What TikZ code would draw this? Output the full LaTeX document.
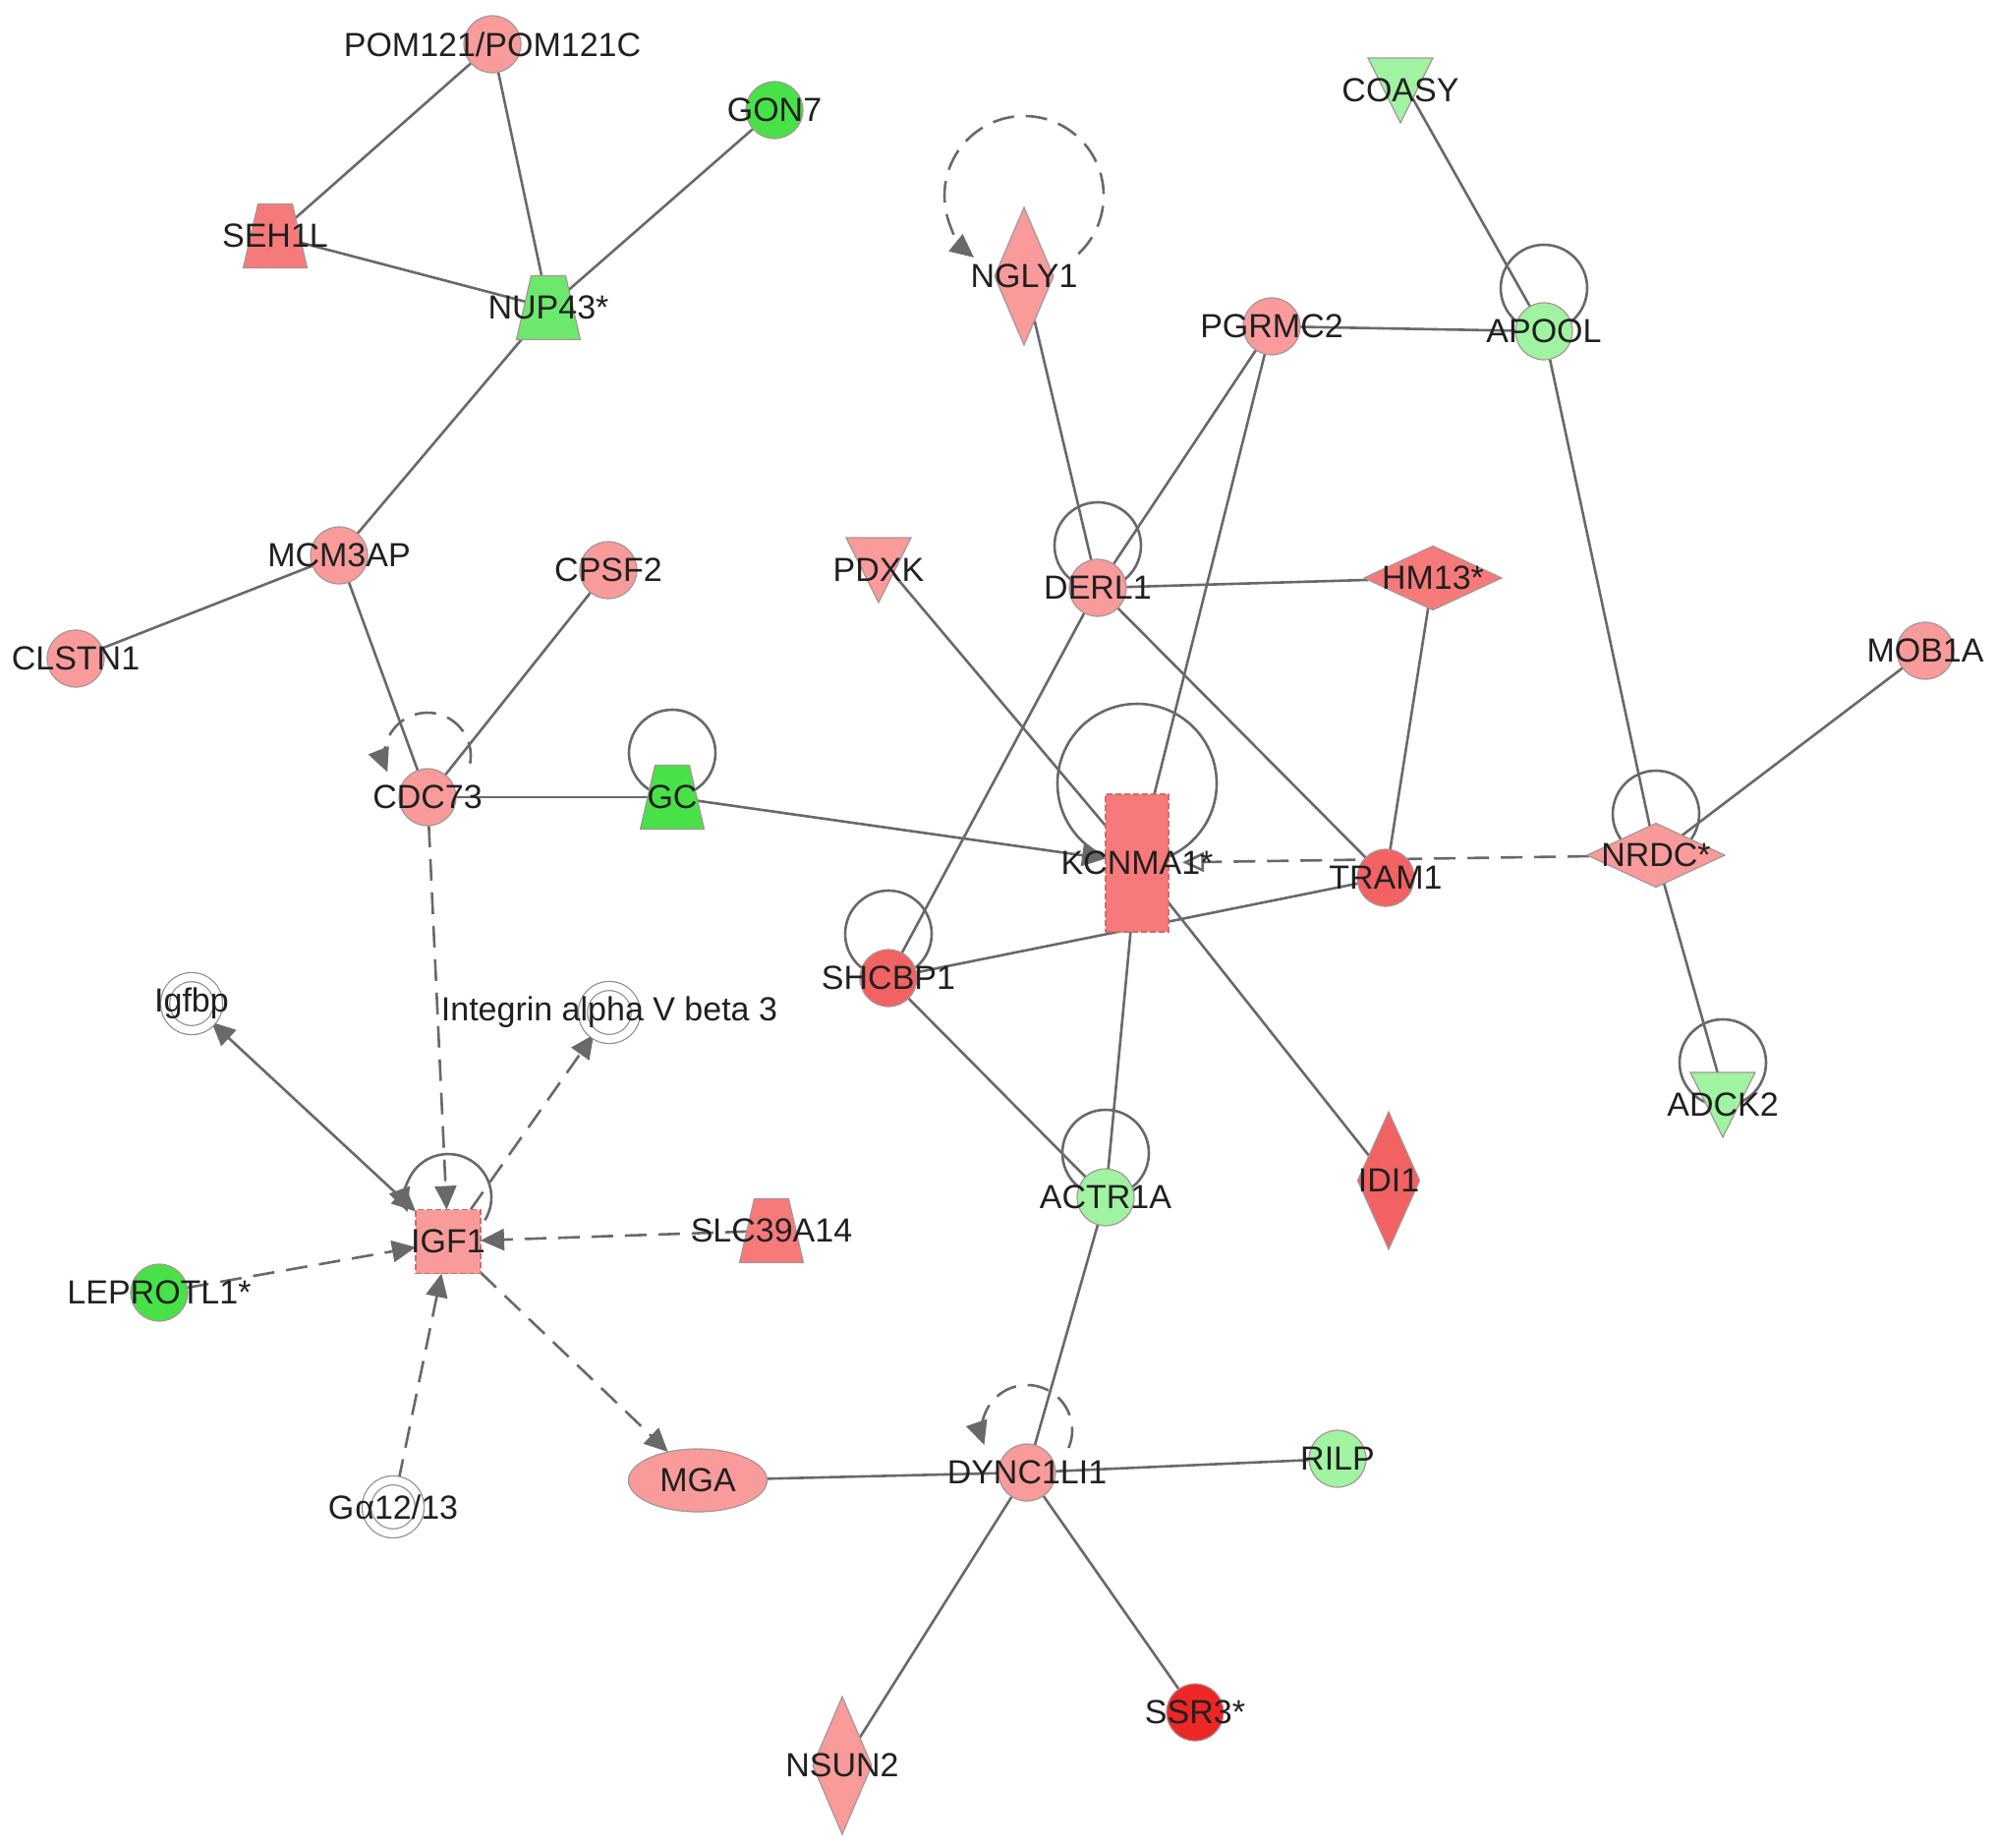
\documentclass[tikz,border=0pt]{standalone}
\usepackage{fontspec}
\setmainfont{Liberation Sans}
\usetikzlibrary{shapes.geometric,arrows.meta,backgrounds}

\definecolor{edgegray}{RGB}{105,105,105}
\definecolor{nodeline}{RGB}{165,150,150}
\definecolor{boxedge}{RGB}{200,110,110}
\definecolor{pinkred}{RGB}{249,155,155}
\definecolor{salmonred}{RGB}{247,122,122}
\definecolor{deepred}{RGB}{242,98,98}
\definecolor{fullred}{RGB}{237,38,38}
\definecolor{brightgreen}{RGB}{72,226,72}
\definecolor{midgreen}{RGB}{108,232,108}
\definecolor{palegreen}{RGB}{160,243,160}
\definecolor{ringgray}{RGB}{140,140,140}
\definecolor{labeltext}{RGB}{32,32,32}

\tikzset{
  mol/.style={draw=nodeline, line width=0.6pt, inner sep=0pt, outer sep=0pt},
  lbl/.style={font=\fontsize{17}{20}\selectfont, text=labeltext, inner sep=0pt},
  ball/.style={mol, circle, minimum size=29pt},
  trap/.style={mol, trapezium, trapezium left angle=77, trapezium right angle=77,
    trapezium stretches body, inner xsep=2pt, inner ysep=16.25pt,
    minimum width=32.5pt, minimum height=32.5pt},
  vee/.style={mol, isosceles triangle, isosceles triangle stretches, inner sep=3pt,
    shape border rotate=-90, minimum width=33pt, minimum height=33pt},
  tall/.style={mol, diamond, inner sep=2pt, minimum width=30pt, minimum height=70pt},
  flat/.style={mol, diamond, inner sep=2pt, minimum width=70pt, minimum height=32.5pt},
  box/.style={mol, rectangle, draw=boxedge, dash pattern=on 3pt off 1.5pt},
  grp/.style={circle, draw=ringgray, double=white, double distance=4pt,
    line width=0.6pt, minimum size=27pt, inner sep=0pt, fill=white},
  link/.style={draw=edgegray, line width=1.3pt},
  dlink/.style={link, dash pattern=on 11pt off 6pt},
  tip/.style={-{Triangle[length=12pt,width=11pt]}},
}

\begin{document}
\begin{tikzpicture}[x=0.5pt,y=-0.5pt]
\useasboundingbox (0,0) rectangle (2031,1880);

\node[ball, fill=pinkred, label={[lbl]center:POM121/POM121C}] (POM) at (501,45) {};
\node[ball, fill=brightgreen, label={[lbl]center:GON7}] (GON7) at (788,112) {};
\node[trap, fill=salmonred, label={[lbl]center:SEH1L}] (SEH1L) at (280,240) {};
\node[trap, fill=midgreen, label={[lbl]center:NUP43*}] (NUP43) at (558,313) {};
\node[ball, fill=pinkred, label={[lbl]center:MCM3AP}] (MCM3AP) at (345,565) {};
\node[ball, fill=pinkred, label={[lbl]center:CLSTN1}] (CLSTN1) at (77,670) {};
\node[ball, fill=pinkred, label={[lbl]center:CPSF2}] (CPSF2) at (619,580) {};
\node[ball, fill=pinkred, label={[lbl]center:CDC73}] (CDC73) at (435,811) {};
\node[trap, fill=brightgreen, label={[lbl]center:GC}] (GC) at (684,811) {};

\node[vee, fill=pinkred, label={[lbl,yshift=-7pt]center:PDXK}] (PDXK) at (894,566) {};
\node[tall, fill=pinkred, label={[lbl]center:NGLY1}] (NGLY1) at (1042,281) {};
\node[ball, fill=pinkred, label={[lbl]center:DERL1}] (DERL1) at (1117,598) {};
\node[ball, fill=pinkred, label={[lbl]center:PGRMC2}] (PGRMC2) at (1294,332) {};
\node[ball, fill=palegreen, label={[lbl]center:APOOL}] (APOOL) at (1571,337) {};
\node[vee, fill=palegreen, label={[lbl,yshift=-7pt]center:COASY}] (COASY) at (1425,78) {};
\node[flat, fill=salmonred, label={[lbl]center:HM13*}] (HM13) at (1458,588) {};
\node[ball, fill=pinkred, label={[lbl]center:MOB1A}] (MOB1A) at (1959,662) {};
\node[flat, fill=pinkred, label={[lbl]center:NRDC*}] (NRDC) at (1685,870) {};
\node[vee, fill=palegreen, label={[lbl,yshift=-7pt]center:ADCK2}] (ADCK2) at (1753,1110) {};

\node[box, fill=salmonred, minimum width=32pt, minimum height=70pt,
  label={[lbl]center:KCNMA1*}] (KCNMA1) at (1157,878) {};
\node[ball, fill=deepred, label={[lbl]center:TRAM1}] (TRAM1) at (1410,893) {};
\node[ball, fill=deepred, label={[lbl]center:SHCBP1}] (SHCBP1) at (904,995) {};
\node[tall, fill=deepred, minimum width=31.5pt, label={[lbl]center:IDI1}] (IDI1) at (1413,1201) {};
\node[ball, fill=palegreen, label={[lbl]center:ACTR1A}] (ACTR1A) at (1125,1218) {};

\node[grp, label={[lbl]center:Igfbp}] (Igfbp) at (195,1021) {};
\node[grp, label={[lbl]center:Integrin alpha V beta 3}] (ITGAVB3) at (620,1030) {};
\node[box, fill=pinkred, minimum width=33pt, minimum height=32.5pt,
  label={[lbl]center:IGF1}] (IGF1) at (456,1263) {};
\node[trap, fill=salmonred, label={[lbl]center:SLC39A14}] (SLC39A14) at (785,1252) {};
\node[ball, fill=brightgreen, label={[lbl]center:LEPROTL1*}] (LEPROTL1) at (162,1315) {};
\node[grp, label={[lbl]center:G\kern0.5pt α12/13}] (GA1213) at (400,1533) {};

\node[mol, ellipse, fill=pinkred, minimum width=70.5pt, minimum height=32pt,
  label={[lbl]center:MGA}] (MGA) at (710,1506) {};
\node[ball, fill=pinkred, label={[lbl]center:DYNC1LI1}] (DYNC1LI1) at (1045,1498) {};
\node[ball, fill=palegreen, label={[lbl]center:RILP}] (RILP) at (1361,1484) {};
\node[ball, fill=fullred, label={[lbl]center:SSR3*}] (SSR3) at (1216,1742) {};
\node[tall, fill=pinkred, label={[lbl]center:NSUN2}] (NSUN2) at (857,1796) {};

\begin{scope}[on background layer]
\draw[link] (POM) -- (SEH1L);
\draw[link] (POM) -- (NUP43);
\draw[link] (SEH1L) -- (NUP43);
\draw[link] (GON7) -- (NUP43);
\draw[link] (NUP43) -- (MCM3AP);
\draw[link] (MCM3AP) -- (CLSTN1);
\draw[link] (MCM3AP) -- (CDC73);
\draw[link] (CPSF2) -- (CDC73);
\draw[link] (CDC73) -- (GC);
\draw[link, tip] (GC) -- (KCNMA1);
\draw[link] (PDXK) -- (KCNMA1);
\draw[link] (NGLY1) -- (DERL1);
\draw[link] (DERL1) -- (PGRMC2);
\draw[link] (DERL1) -- (HM13);
\draw[link] (DERL1) -- (TRAM1);
\draw[link] (DERL1) -- (SHCBP1);
\draw[link] (HM13) -- (TRAM1);
\draw[link] (PGRMC2) -- (APOOL);
\draw[link] (PGRMC2) -- (KCNMA1);
\draw[link] (COASY) -- (APOOL);
\draw[link] (APOOL) -- (NRDC);
\draw[link] (NRDC) -- (MOB1A);
\draw[link] (NRDC) -- (ADCK2);
\draw[dlink, -{Triangle[open,length=11pt,width=10pt]}, shorten >=7pt] (NRDC) -- (KCNMA1);
\draw[link] (SHCBP1) -- (TRAM1);
\draw[link] (SHCBP1) -- (ACTR1A);
\draw[link] (KCNMA1) -- (ACTR1A);
\draw[link] (KCNMA1) -- (IDI1);
\draw[link] (ACTR1A) -- (DYNC1LI1);
\draw[dlink, tip] (CDC73) -- (IGF1);
\draw[link, {Triangle[length=12pt,width=11pt]}-{Triangle[length=12pt,width=11pt]}] (IGF1) -- (Igfbp);
\draw[dlink, tip] (IGF1) -- (ITGAVB3);
\draw[dlink, tip] (SLC39A14) -- (IGF1);
\draw[dlink, tip] (LEPROTL1) -- (IGF1);
\draw[dlink, tip] (GA1213) -- (IGF1);
\draw[dlink, tip] (IGF1) -- (MGA);
\draw[link] (MGA) -- (DYNC1LI1);
\draw[link] (DYNC1LI1) -- (RILP);
\draw[link] (DYNC1LI1) -- (SSR3);
\draw[link] (DYNC1LI1) -- (NSUN2);

\draw[dlink, tip] ([yshift=41pt]NGLY1.center) ++(47:81) arc[start angle=47, end angle=-231, radius=81];
\draw[link] ([yshift=21.5pt]DERL1.center) circle[radius=44];
\draw[link] ([yshift=22pt]APOOL.center) circle[radius=44];
\draw[dlink, tip] ([yshift=21pt]CDC73.center) ++(10:44) arc[start angle=10, end angle=-202, radius=44];
\draw[link] ([yshift=22.5pt]GC.center) circle[radius=44];
\draw[link, tip] ([yshift=22.5pt]IGF1.center) ++(32:44) arc[start angle=32, end angle=-200, radius=44];
\draw[link] ([yshift=22.5pt]SHCBP1.center) circle[radius=44];
\draw[link] ([yshift=40.5pt]KCNMA1.center) circle[radius=81];
\draw[link] ([yshift=22.5pt]ACTR1A.center) circle[radius=44];
\draw[link] ([yshift=21pt]NRDC.center) circle[radius=44];
\draw[link] ([yshift=14.5pt]ADCK2.center) circle[radius=44];
\draw[dlink, tip] ([yshift=21.5pt]DYNC1LI1.center) ++(23:46) arc[start angle=23, end angle=-199, radius=46];
\end{scope}
\end{tikzpicture}
\end{document}
